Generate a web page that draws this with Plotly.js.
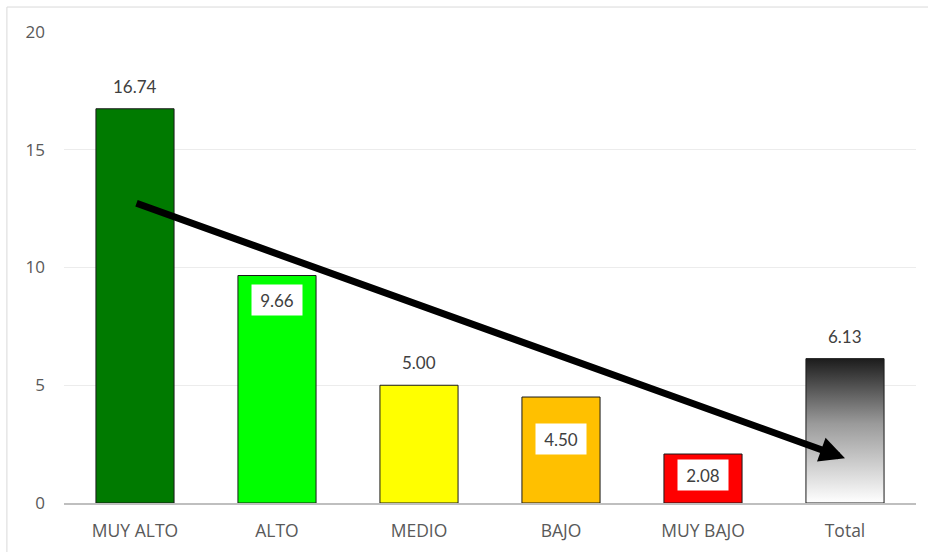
<!DOCTYPE html>
<html>
<head>
<meta charset="utf-8">
<script src="https://cdn.plot.ly/plotly-3.0.1.min.js"></script>
<style>
  html, body { margin: 0; padding: 0; background: #fff; }
  #chart { width: 928px; height: 552px; }
</style>
</head>
<body>
<div id="chart"></div>
<script>
// ---- data ----
const categories = ['MUY ALTO', 'ALTO', 'MEDIO', 'BAJO', 'MUY BAJO', 'Total'];
const values = [16.74, 9.66, 5.00, 4.50, 2.08, 6.13];
const valueLabels = ['16.74', '9.66', '5.00', '4.50', '2.08', '6.13'];
const yTickValues = [0, 5, 10, 15, 20];
const trendStart = { category: 'MUY ALTO', value: 12.75 };
const trendEnd = { category: 'Total', value: 1.9 };

// ---- styles ----
const barColors = ['#007A00', '#00FF00', '#FFFF00', '#FFC000', '#FF0000', '#ffffff'];
const labelInside = [false, true, false, true, true, false];
const labelShift = [10, -8, 10, -26, -5, 10];
const fontFamily = 'Lato, "Open Sans", sans-serif';
const tickFamily = '"Open Sans", Lato, sans-serif';

const bars = {
  type: 'bar',
  x: categories,
  y: values,
  width: 0.55,
  marker: { color: barColors, line: { color: '#1a1a1a', width: 1 } },
  hoverinfo: 'x+y'
};

const annotations = categories.map((c, i) => {
  const a = {
    x: c, y: values[i], xref: 'x', yref: 'y',
    text: valueLabels[i], showarrow: false,
    font: { family: fontFamily, size: 17, color: '#404040' },
    yshift: labelShift[i]
  };
  if (labelInside[i]) {
    a.yanchor = 'top';
    a.bgcolor = '#ffffff';
    a.width = 50;
    a.height = 30;
    a.borderpad = 0;
  } else {
    a.yanchor = 'bottom';
  }
  return a;
});

annotations.push({
  x: trendEnd.category, y: trendEnd.value, xref: 'x', yref: 'y',
  ax: trendStart.category, ay: trendStart.value, axref: 'x', ayref: 'y',
  text: '', showarrow: true,
  arrowhead: 2, arrowsize: 0.72, arrowwidth: 7, arrowcolor: '#000000',
  standoff: 0, startstandoff: 0
});

const layout = {
  width: 928, height: 552,
  margin: { l: 64, r: 12, t: 32, b: 49 },
  paper_bgcolor: '#ffffff', plot_bgcolor: '#ffffff',
  showlegend: false,
  bargap: 0.45,
  font: { family: tickFamily, color: '#595959', size: 16 },
  xaxis: {
    type: 'category',
    showgrid: false,
    showline: true, linecolor: '#bfbfbf', linewidth: 2,
    ticks: '', ticklabelstandoff: 11,
    tickfont: { family: tickFamily, size: 17.5, color: '#595959' },
    zeroline: false
  },
  yaxis: {
    range: [0, 20],
    tickvals: yTickValues,
    ticktext: yTickValues.map(String),
    showgrid: true, gridcolor: '#ececec', gridwidth: 1,
    showline: false, zeroline: false,
    ticks: '', ticklabelstandoff: 18,
    tickfont: { family: tickFamily, size: 17, color: '#595959' }
  },
  annotations: annotations,
  shapes: [{
    type: 'rect', xref: 'paper', yref: 'paper',
    x0: -0.067, x1: 1.2, y0: -0.3, y1: 1.053,
    line: { color: '#d9d9d9', width: 1 }, fillcolor: 'rgba(0,0,0,0)', layer: 'above'
  }]
};

function applyGradient(gd) {
  const svg = gd.querySelector('svg.main-svg');
  if (!svg) return;
  let defs = svg.querySelector('defs');
  if (!defs) { defs = document.createElementNS('http://www.w3.org/2000/svg', 'defs'); svg.insertBefore(defs, svg.firstChild); }
  if (!svg.querySelector('#totalGrad')) {
    const ns = 'http://www.w3.org/2000/svg';
    const lg = document.createElementNS(ns, 'linearGradient');
    lg.setAttribute('id', 'totalGrad');
    lg.setAttribute('x1', '0'); lg.setAttribute('y1', '0');
    lg.setAttribute('x2', '0'); lg.setAttribute('y2', '1');
    [['0', '#1c1c1c'], ['0.45', '#9a9a9a'], ['1', '#ffffff']].forEach(([o, c]) => {
      const s = document.createElementNS(ns, 'stop');
      s.setAttribute('offset', o); s.setAttribute('stop-color', c);
      lg.appendChild(s);
    });
    defs.appendChild(lg);
  }
  const pts = gd.querySelectorAll('.barlayer .point path');
  const last = pts[categories.length - 1];
  if (last) last.style.fill = 'url(#totalGrad)';
}

const gd = document.getElementById('chart');
Plotly.newPlot(gd, [bars], layout, { displayModeBar: false, staticPlot: true }).then(() => {
  applyGradient(gd);
  gd.on('plotly_afterplot', () => applyGradient(gd));
});
</script>
</body>
</html>
